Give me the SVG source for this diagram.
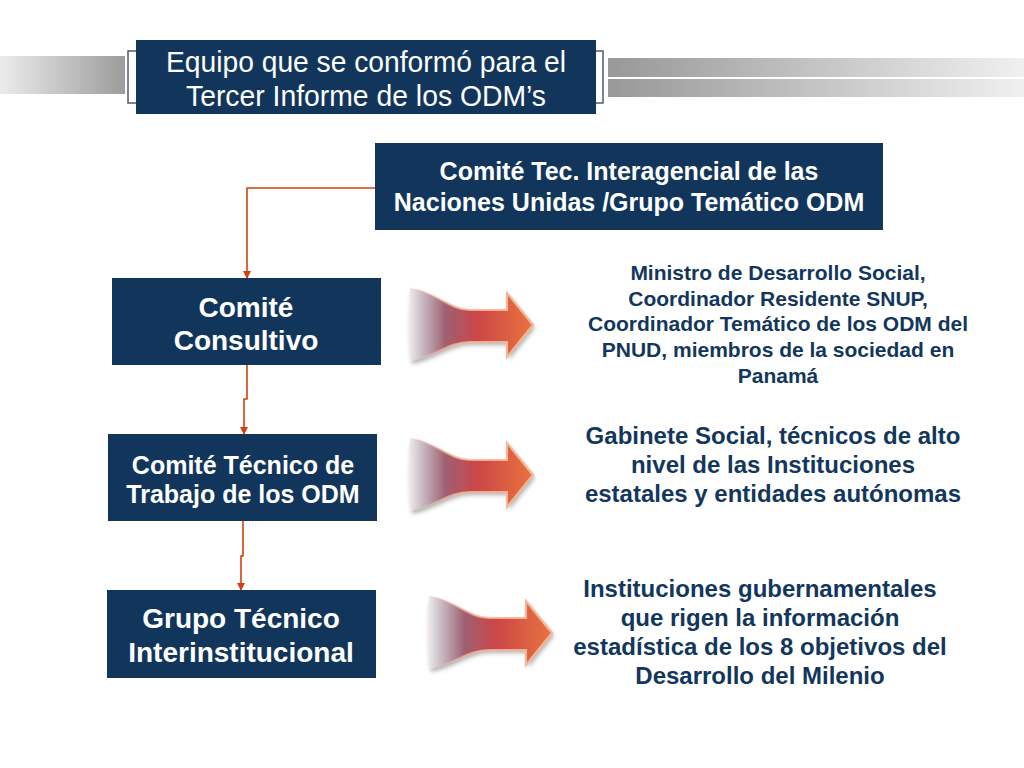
<svg xmlns="http://www.w3.org/2000/svg" width="1024" height="768" viewBox="0 0 1024 768">
<defs>
<style>
.box{fill:#12365b}
.bt{fill:#ffffff;font-family:"Liberation Sans",Arial,sans-serif;font-weight:bold;text-anchor:middle}
.tt{fill:#ffffff;font-family:"Liberation Sans",Arial,sans-serif;text-anchor:middle}
.rt{fill:#13375c;font-family:"Liberation Sans",Arial,sans-serif;font-weight:bold;text-anchor:middle}
.con{fill:none;stroke:#d2410f;stroke-width:1.6}
.brk{fill:none;stroke:#4d5b70;stroke-width:1.5}
.arr{fill:url(#ag);filter:url(#sh)}
.arrs{fill:none;stroke:url(#sg);stroke-width:2.2;stroke-linejoin:miter}
</style>
<linearGradient id="lg" x1="0" y1="0" x2="1" y2="0">
<stop offset="0" stop-color="#ececec"/>
<stop offset="1" stop-color="#9c9c9c"/>
</linearGradient>
<linearGradient id="rg" x1="0" y1="0" x2="1" y2="0">
<stop offset="0" stop-color="#989898"/>
<stop offset="1" stop-color="#f0f0f0"/>
</linearGradient>
<linearGradient id="ag" x1="0" y1="0" x2="1" y2="0">
<stop offset="0" stop-color="#f2eff2"/>
<stop offset="0.12" stop-color="#c6b8c0"/>
<stop offset="0.3" stop-color="#9e6072"/>
<stop offset="0.55" stop-color="#cc4648"/>
<stop offset="1" stop-color="#e8743e"/>
</linearGradient>
<linearGradient id="sg" x1="0" y1="0" x2="1" y2="0">
<stop offset="0" stop-color="#f6b594" stop-opacity="0"/>
<stop offset="0.35" stop-color="#f6b594" stop-opacity="0.8"/>
<stop offset="1" stop-color="#f6b594"/>
</linearGradient>
<filter id="sh" x="-20%" y="-20%" width="140%" height="150%">
<feDropShadow dx="2" dy="3" stdDeviation="2" flood-color="#000000" flood-opacity="0.3"/>
</filter>
<marker id="ah" markerWidth="8" markerHeight="8" refX="7" refY="4" orient="auto" markerUnits="userSpaceOnUse">
<path d="M0,0 L8,4 L0,8 Z" fill="#d2410f"/>
</marker>
<path id="arrowShape" d="M0,0 C25,4 40,22 60,22 L97,22 L97,5 L123,37 L97,69 L97,54 L60,54 C40,54 25,68 0,73 Q-4,37 0,0 Z"/>
<path id="arrowEdge" d="M0,0 C25,4 40,22 60,22 L97,22 L97,5 L123,37 L97,69 L97,54 L60,54 C40,54 25,68 0,73"/>
</defs>
<rect width="1024" height="768" fill="#ffffff"/>

<g id="header">
<rect x="0" y="56" width="125" height="38" fill="url(#lg)"/>
<rect x="608" y="58" width="416" height="19" fill="url(#rg)"/>
<rect x="608" y="79" width="416" height="18" fill="url(#rg)"/>
<path class="brk" d="M136,51 H128 V103 H136"/>
<path class="brk" d="M596,51 H603 V103 H596"/>
<rect class="box" x="136" y="40" width="460" height="74"/>
<text class="tt" x="366" y="72" font-size="30" textLength="400" lengthAdjust="spacingAndGlyphs">Equipo que se conformó para el</text>
<text class="tt" x="366" y="106" font-size="30" textLength="360" lengthAdjust="spacingAndGlyphs">Tercer Informe de los ODM’s</text>
</g>

<g id="connectors">
<path class="con" d="M375,188 H247 V278" marker-end="url(#ah)"/>
<path class="con" d="M247,365 V399 H244 V434" marker-end="url(#ah)"/>
<path class="con" d="M243,521 V556 H241 V590" marker-end="url(#ah)"/>
</g>

<g id="node-comite-tec">
<rect class="box" x="375" y="143" width="508" height="87"/>
<text class="bt" x="629" y="180" font-size="25">Comité Tec. Interagencial de las</text>
<text class="bt" x="629" y="211" font-size="25">Naciones Unidas /Grupo Temático ODM</text>
</g>

<g id="node-consultivo">
<rect class="box" x="112" y="278" width="269" height="87"/>
<text class="bt" x="246" y="317" font-size="28">Comité</text>
<text class="bt" x="246" y="350" font-size="28">Consultivo</text>
</g>

<g id="node-tecnico">
<rect class="box" x="108" y="434" width="269" height="87"/>
<text class="bt" x="243" y="474" font-size="25">Comité Técnico de</text>
<text class="bt" x="243" y="503" font-size="25">Trabajo de los ODM</text>
</g>

<g id="node-grupo">
<rect class="box" x="107" y="590" width="269" height="88"/>
<text class="bt" x="241" y="628" font-size="28">Grupo Técnico</text>
<text class="bt" x="241" y="662" font-size="28">Interinstitucional</text>
</g>

<g id="arrow-1" transform="translate(410,288)"><use href="#arrowShape" class="arr"/><use href="#arrowEdge" class="arrs"/></g>
<g id="arrow-2" transform="translate(410,438)"><use href="#arrowShape" class="arr"/><use href="#arrowEdge" class="arrs"/></g>
<g id="arrow-3" transform="translate(429,596)"><use href="#arrowShape" class="arr"/><use href="#arrowEdge" class="arrs"/></g>

<g id="desc-1">
<text class="rt" x="778" y="280" font-size="21">Ministro de Desarrollo Social,</text>
<text class="rt" x="778" y="306" font-size="21">Coordinador Residente SNUP,</text>
<text class="rt" x="778" y="331" font-size="21">Coordinador Temático de los ODM del</text>
<text class="rt" x="778" y="357" font-size="21">PNUD, miembros de la sociedad en</text>
<text class="rt" x="778" y="383" font-size="21">Panamá</text>
</g>

<g id="desc-2">
<text class="rt" x="773" y="444" font-size="24">Gabinete Social, técnicos de alto</text>
<text class="rt" x="773" y="473" font-size="24">nivel de las Instituciones</text>
<text class="rt" x="773" y="502" font-size="24">estatales y entidades autónomas</text>
</g>

<g id="desc-3">
<text class="rt" x="760" y="597" font-size="24">Instituciones gubernamentales</text>
<text class="rt" x="760" y="626" font-size="24">que rigen la información</text>
<text class="rt" x="760" y="655" font-size="24">estadística de los 8 objetivos del</text>
<text class="rt" x="760" y="684" font-size="24">Desarrollo del Milenio</text>
</g>
</svg>
